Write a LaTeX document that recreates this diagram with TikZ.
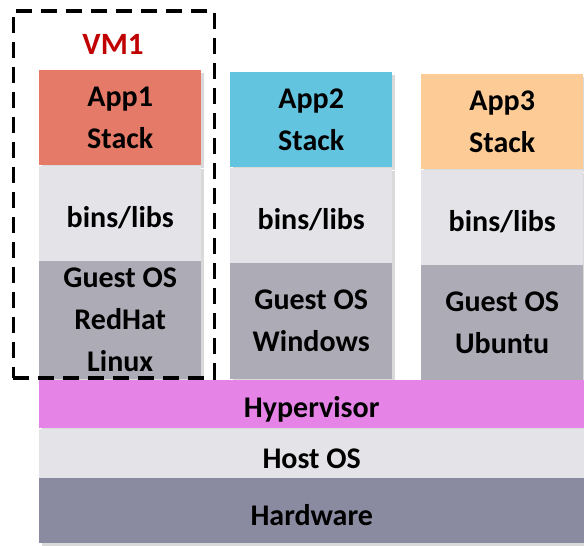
\documentclass[tikz,border=0pt]{standalone}
\usepackage{fontspec}
\setmainfont{Carlito}
\usetikzlibrary{positioning,fit,shadows}
\definecolor{appone}{RGB}{229,122,104}
\definecolor{apptwo}{RGB}{99,196,224}
\definecolor{appthree}{RGB}{253,204,150}
\definecolor{binsgray}{RGB}{228,227,232}
\definecolor{guestgray}{RGB}{172,171,182}
\definecolor{hyperpink}{RGB}{229,131,230}
\definecolor{hostgray}{RGB}{228,227,232}
\definecolor{hwgray}{RGB}{138,139,160}
\definecolor{vmred}{RGB}{192,0,0}
\tikzset{%
    layer/.style  = {rectangle, inner sep=0pt, minimum width=162pt, align=center,
        font=\bfseries\fontsize{30}{42}\selectfont,
        execute at begin node={\rule{0pt}{31pt}},
        drop shadow={opacity=.3, shadow xshift=3pt, shadow yshift=-3pt}},
    app/.style    = {layer, minimum height=95pt},
    libs/.style   = {layer, fill=binsgray, minimum height=95pt},
    guest/.style  = {layer, fill=guestgray, minimum height=118pt},
    base/.style   = {layer, minimum width=545pt},
    vmframe/.style = {draw, line width=3.5pt, dash pattern=on 16pt off 9pt,
        inner sep=0pt},
}

\begin{document}
\begin{tikzpicture}[x=1pt, y=-1pt]
    \useasboundingbox (0,0) rectangle (584,546);
    % the three guest stacks
    \node [app, fill=appone, anchor=north west] (app1) at (39,70) {App1\\Stack};
    \node [libs, below=0pt of app1] (libs1) {bins/libs};
    \node [guest, below=0pt of libs1] (guest1) {Guest OS\\RedHat\\Linux};

    \node [app, fill=apptwo, anchor=north west] (app2) at (230,72) {App2\\Stack};
    \node [libs, below=0pt of app2] (libs2) {bins/libs};
    \node [guest, below=0pt of libs2, minimum height=116pt] (guest2) {Guest OS\\Windows};

    \node [app, fill=appthree, anchor=north west] (app3) at (421,74) {App3\\Stack};
    \node [libs, below=0pt of app3] (libs3) {bins/libs};
    \node [guest, below=0pt of libs3, minimum height=115pt] (guest3) {Guest OS\\Ubuntu};

    % VM1 frame
    \node [vmframe, anchor=north west, minimum width=201pt, minimum height=367pt] (vm1) at (11.5,9) {};
    \node [text=vmred, font=\bfseries\fontsize{31}{34}\selectfont] (vm1label) at (113,44) {VM1};

    % host side
    \node [base, fill=hyperpink, minimum height=48pt, anchor=north west] (hyper) at (39,380) {Hypervisor};
    \node [base, fill=hostgray, minimum height=49pt, below=0pt of hyper] (host) {Host OS};
    \node [base, fill=hwgray, minimum height=65pt, below=0pt of host] (hw) {Hardware};
\end{tikzpicture}
\end{document}
